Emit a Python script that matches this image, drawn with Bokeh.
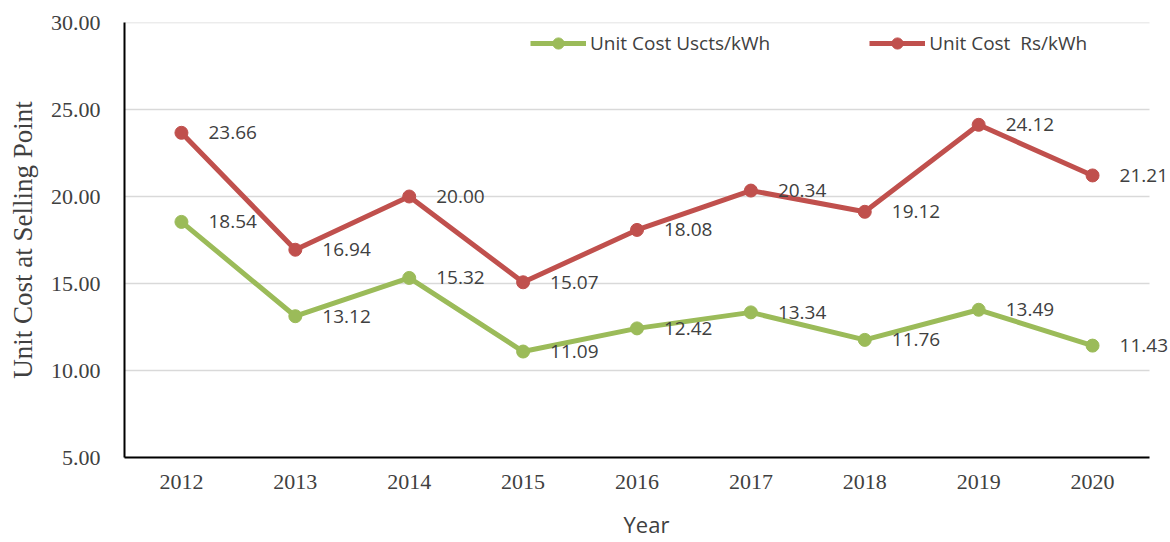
from bokeh.plotting import figure
from bokeh.models import (Range1d, FixedTicker, NumeralTickFormatter, Legend,
                          LegendItem, LabelSet, ColumnDataSource)
from bokeh.core.properties import value
from bokeh.embed import file_html
from bokeh.resources import INLINE

years = [2012, 2013, 2014, 2015, 2016, 2017, 2018, 2019, 2020]
uscts = [18.54, 13.12, 15.32, 11.09, 12.42, 13.34, 11.76, 13.49, 11.43]
rs = [23.66, 16.94, 20.00, 15.07, 18.08, 20.34, 19.12, 24.12, 21.21]
y_ticks = [5, 10, 15, 20, 25, 30]
series_names = ["Unit Cost Uscts/kWh", "Unit Cost  Rs/kWh"]

GREEN = "#9BBB59"
RED = "#C0504D"
TXT = "#404040"

W, H = 1168, 542
LEFT, TOP, BOTTOM = 124, 22, 85
PLOT_RIGHT = 1149          # where the category area (and gridlines) end
x0 = years[0] - 0.5
x1 = years[-1] + 0.5
unit = (PLOT_RIGHT - LEFT) / (x1 - x0)
x_end = x1 + (W - PLOT_RIGHT) / unit   # extra room so labels are not clipped

p = figure(width=W, height=H, x_range=Range1d(x0, x_end), y_range=Range1d(5, 30),
           output_backend="svg", toolbar_location=None,
           min_border_left=LEFT, min_border_right=0, min_border_top=TOP,
           min_border_bottom=BOTTOM)
p.outline_line_color = None
p.background_fill_color = "white"

# grid lines (drawn from the y ticks, limited to the category area)
p.xgrid.grid_line_color = None
p.ygrid.grid_line_color = None
p.segment(x0=[x0] * len(y_ticks), x1=[x1] * len(y_ticks), y0=y_ticks, y1=y_ticks,
          line_color="#D9D9D9", line_width=1.5)

# axes
p.xaxis.ticker = FixedTicker(ticks=years)
p.xaxis.bounds = (x0, x1)
p.yaxis.ticker = FixedTicker(ticks=y_ticks)
p.yaxis.formatter = NumeralTickFormatter(format="0.00")
for ax in (p.xaxis[0], p.yaxis[0]):
    ax.major_tick_out = 0
    ax.major_tick_in = 0
    ax.minor_tick_out = 0
    ax.minor_tick_in = 0
    ax.axis_line_color = "black"
    ax.axis_line_width = 2
    ax.major_label_text_font = "Liberation Serif"
    ax.major_label_text_font_size = "22px"
    ax.major_label_text_color = TXT
p.yaxis.major_label_standoff = 24
p.xaxis.major_label_standoff = 17
p.yaxis.axis_label = "Unit Cost at Selling Point"
p.yaxis.axis_label_text_font = "Liberation Serif"
p.yaxis.axis_label_text_font_size = "27px"
p.yaxis.axis_label_text_font_style = "normal"
p.yaxis.axis_label_text_color = TXT
p.yaxis.axis_label_standoff = 10

p.xaxis.axis_label = "Year"
p.xaxis.axis_label_text_font = "Open Sans"
p.xaxis.axis_label_text_font_size = "22px"
p.xaxis.axis_label_text_font_style = "normal"
p.xaxis.axis_label_text_color = TXT
p.xaxis.axis_label_standoff = 17

src = ColumnDataSource(dict(x=years, g=uscts, r=rs,
                            gl=[f"{v:.2f}" for v in uscts],
                            rl=[f"{v:.2f}" for v in rs]))

gline = p.line("x", "g", source=src, line_color=GREEN, line_width=5)
gdot = p.scatter("x", "g", source=src, size=13, fill_color=GREEN, line_color=GREEN)
rline = p.line("x", "r", source=src, line_color=RED, line_width=5)
rdot = p.scatter("x", "r", source=src, size=13, fill_color=RED, line_color=RED)

for ycol, tcol in (("g", "gl"), ("r", "rl")):
    p.add_layout(LabelSet(x="x", y=ycol, text=tcol, source=src,
                          x_offset=27, text_align="left", text_baseline="middle",
                          text_font=value("Open Sans"), text_font_size=value("19px"),
                          text_color=TXT))

legend = Legend(items=[LegendItem(label=series_names[0], renderers=[gline, gdot]),
                       LegendItem(label=series_names[1], renderers=[rline, rdot])],
                orientation="horizontal", location=(406, 400),
                margin=0, padding=0, spacing=99, glyph_width=56, glyph_height=28,
                label_standoff=4, label_text_font="Open Sans",
                label_text_font_size="19px", label_text_color=TXT,
                border_line_color=None, background_fill_alpha=0)
p.add_layout(legend, "center")

open("out.html", "w").write(file_html(p, INLINE))
